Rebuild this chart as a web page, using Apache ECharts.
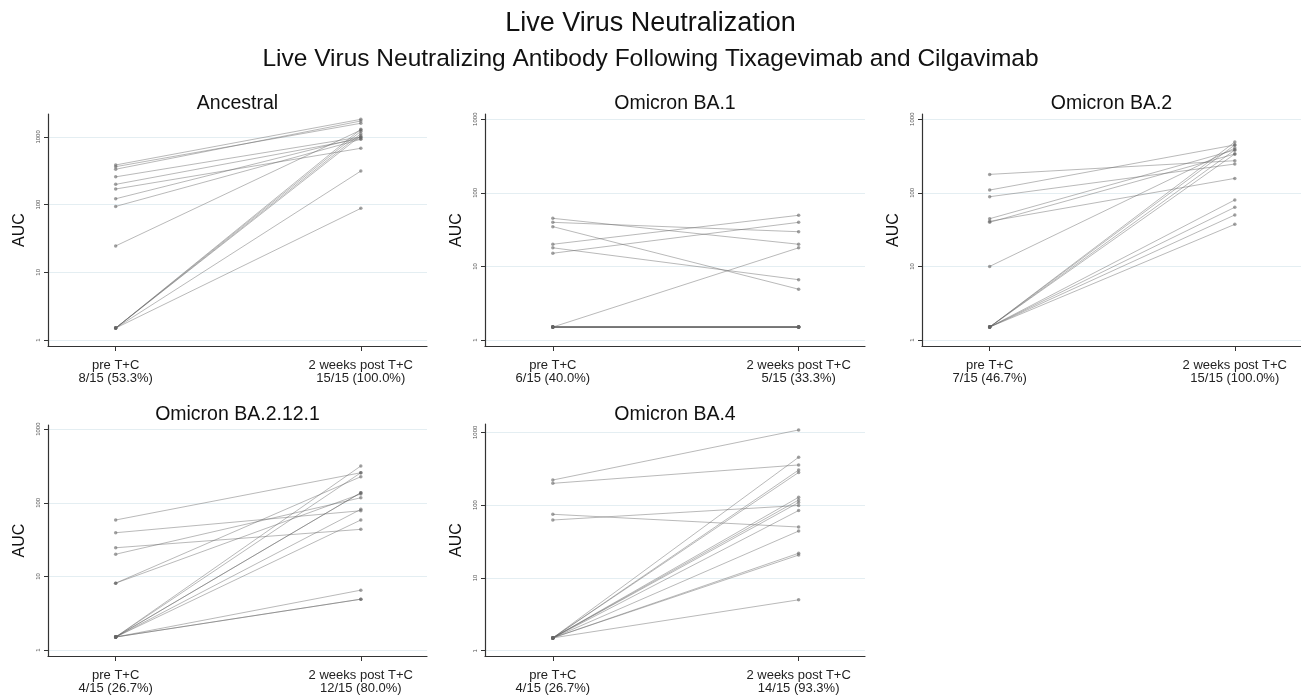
<!DOCTYPE html>
<html>
<head>
<meta charset="utf-8">
<script src="https://cdn.jsdelivr.net/npm/echarts@6/dist/echarts.min.js"></script>
<style>
html,body{margin:0;padding:0;background:#fff;}
#chart{width:1301px;height:697px;}
</style>
</head>
<body>
<div id="chart"></div>
<script>
// ---- data ----
const mainTitle = 'Live Virus Neutralization';
const subTitle = 'Live Virus Neutralizing Antibody Following Tixagevimab and Cilgavimab';
const categories = ['pre T+C', '2 weeks post T+C'];
const panelTitles = ['Ancestral', 'Omicron BA.1', 'Omicron BA.2', 'Omicron BA.2.12.1', 'Omicron BA.4'];
const preCounts = ['8/15 (53.3%)', '6/15 (40.0%)', '7/15 (46.7%)', '4/15 (26.7%)', '4/15 (26.7%)'];
const postCounts = ['15/15 (100.0%)', '5/15 (33.3%)', '15/15 (100.0%)', '12/15 (80.0%)', '14/15 (93.3%)'];
const yTicks = [1, 10, 100, 1000];
const yTickLabels = ['1', '10', '100', '1000'];
const yAxisName = 'AUC';

const ancestralPre  = [385, 363, 333, 257, 199, 170, 122, 94, 24.5, 1.5, 1.5, 1.5, 1.5, 1.5, 1.5];
const ancestralPost = [1820, 1590, 1718, 1000, 940, 679, 986, 922, 1262, 1210, 1115, 1042, 1300, 313, 88];

const ba1Pre  = [45, 39.7, 34.7, 20, 17.9, 15.1, 1.5, 1.5, 1.5, 1.5, 1.5, 1.5, 1.5, 1.5, 1.5];
const ba1Post = [20, 29.6, 4.9, 49.5, 6.6, 39.7, 17.9, 1.5, 1.5, 1.5, 1.5, 1.5, 1.5, 1.5, 1.5];

const ba2Pre  = [178, 109, 88.5, 44.5, 41, 39.7, 10, 1.5, 1.5, 1.5, 1.5, 1.5, 1.5, 1.5, 1.5];
const ba2Post = [273, 447, 246, 382, 157, 337, 405, 490, 447, 382, 337, 80, 63.6, 50, 37.3];

const ba2121Pre  = [58.4, 39.2, 24.5, 20, 8.1, 8.1, 1.5, 1.5, 1.5, 1.5, 1.5, 1.5, 1.5, 1.5, 1.5];
const ba2121Post = [256, 78, 43.6, 117, 132, 226, 316, 256, 137, 137, 81.5, 58.4, 6.5, 4.9, 4.9];

const ba4Pre  = [221, 199, 74.8, 62.4, 1.5, 1.5, 1.5, 1.5, 1.5, 1.5, 1.5, 1.5, 1.5, 1.5, 1.5];
const ba4Post = [1076, 356, 50, 98.8, 454, 303, 281, 128, 117.5, 108.6, 84.3, 44, 21.8, 20.6, 5];

const preSets  = [ancestralPre, ba1Pre, ba2Pre, ba2121Pre, ba4Pre];
const postSets = [ancestralPost, ba1Post, ba2Post, ba2121Post, ba4Post];

// ---- layout (positions/sizes) ----
const grids = [
  {left: 48,  top: 114, width: 379, height: 232},
  {left: 485, top: 114, width: 380, height: 232},
  {left: 922, top: 114, width: 379, height: 232},
  {left: 48,  top: 425, width: 379, height: 231},
  {left: 485, top: 424, width: 380, height: 232}
];
const yRanges = [[0.815, 2180], [0.829, 1177], [0.829, 1177], [0.829, 1140], [0.846, 1300]];
const titleTops = [91, 91, 91, 402, 402];

const FONT = "'Liberation Sans', Arial, sans-serif";

const titles = [
  {text: mainTitle, left: 'center', top: 10, padding: 0, textStyle: {fontFamily: FONT, fontSize: 27, fontWeight: 'normal', color: '#111'}},
  {text: subTitle, left: 'center', top: 47, padding: 0, textStyle: {fontFamily: FONT, fontSize: 24.5, fontWeight: 'normal', color: '#111'}}
];
const xAxes = [], yAxes = [], series = [];

grids.forEach((g, i) => {
  titles.push({
    text: panelTitles[i],
    left: g.left + g.width / 2,
    top: titleTops[i] + 3,
    padding: 0,
    textAlign: 'center',
    textStyle: {fontFamily: FONT, fontSize: 19.5, fontWeight: 'normal', color: '#111'}
  });
  xAxes.push({
    type: 'value', gridIndex: i, min: -0.276, max: 1.27,
    axisLine: {show: true, onZero: false, lineStyle: {color: '#333', width: 1.2}},
    axisTick: {show: true, length: 5, customValues: [0, 1], lineStyle: {color: '#333'}},
    axisLabel: {
      customValues: [0, 1], margin: 13, fontFamily: FONT, fontSize: 13, lineHeight: 13, color: '#222',
      formatter: v => (v === 0 ? categories[0] + '\n' + preCounts[i] : categories[1] + '\n' + postCounts[i])
    },
    splitLine: {show: false}
  });
  yAxes.push({
    type: 'log', logBase: 10, gridIndex: i, min: yRanges[i][0], max: yRanges[i][1],
    name: yAxisName, nameLocation: 'middle', nameGap: 20,
    nameTextStyle: {fontFamily: FONT, fontSize: 16, color: '#111'},
    axisLine: {show: true, onZero: false, lineStyle: {color: '#333', width: 1.2}},
    axisTick: {show: true, length: 4, customValues: yTicks, lineStyle: {color: '#333'}},
    axisLabel: {
      customValues: yTicks, rotate: 90, margin: 7, fontFamily: FONT, fontSize: 6, color: '#555',
      formatter: v => yTickLabels[yTicks.indexOf(Math.round(v))] || String(Math.round(v))
    },
    splitLine: {show: true, lineStyle: {color: '#e4eef2', width: 1}},
    minorTick: {show: false}
  });
  const pre = preSets[i], post = postSets[i];
  for (let k = 0; k < pre.length; k++) {
    series.push({
      type: 'line', xAxisIndex: i, yAxisIndex: i,
      data: [[0, pre[k]], [1, post[k]]],
      symbol: 'circle', symbolSize: 3.5, showSymbol: true,
      lineStyle: {color: 'rgba(100,100,100,0.45)', width: 1},
      itemStyle: {color: 'rgba(100,100,100,0.6)'},
      silent: true, animation: false, z: 2
    });
  }
});

const chart = echarts.init(document.getElementById('chart'), null, {renderer: 'canvas'});
chart.setOption({
  backgroundColor: '#fff',
  animation: false,
  title: titles,
  grid: grids,
  xAxis: xAxes,
  yAxis: yAxes,
  series: series
});
</script>
</body>
</html>
